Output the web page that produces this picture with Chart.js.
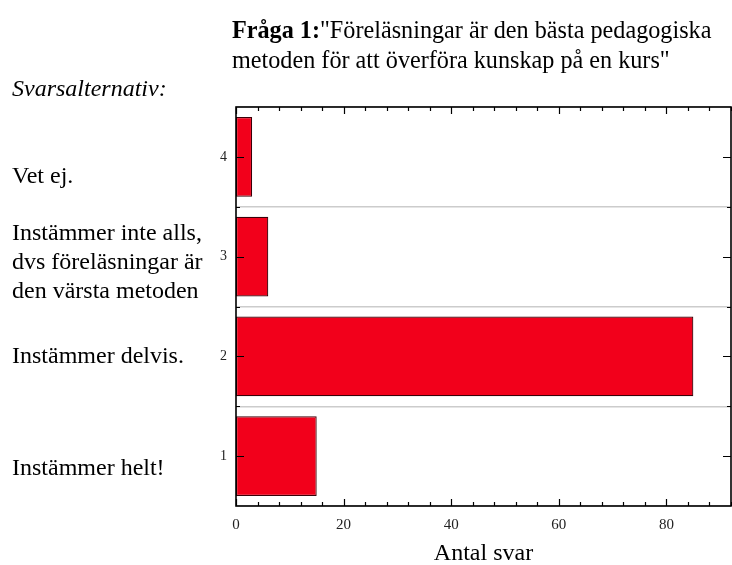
<!DOCTYPE html>
<html>
<head>
<meta charset="utf-8">
<script src="https://cdn.jsdelivr.net/npm/chart.js@4"></script>
<style>
  html, body { margin: 0; padding: 0; background: #fff; }
  #wrap { position: relative; width: 732px; height: 565px; overflow: hidden; }
  #c { position: absolute; left: 0; top: 0; }
  .t { position: absolute; font-family: "Liberation Serif", "Times New Roman", serif; font-size: 24px; color: #000; white-space: nowrap; }
</style>
</head>
<body>
<div id="wrap">
  <canvas id="c" width="732" height="565"></canvas>
  <div class="t" id="title" style="left:232px; top:15px; line-height:30px; font-size:24.2px;"></div>
  <div class="t" id="svar" style="left:12px; top:73px; line-height:30px; font-style:italic;"></div>
  <div id="labels"></div>
</div>
<script>
// ---- data ----
const codes = ['1', '2', '3', '4'];
const answerLabels = [
  ['Instämmer helt!'],
  ['Instämmer delvis.'],
  ['Instämmer inte alls,', 'dvs föreläsningar är', 'den värsta metoden'],
  ['Vet ej.']
];
const counts = [15, 85, 6, 3];
const xTickValues = [0, 20, 40, 60, 80];
const titleBold = 'Fråga 1:';
const titleLines = ['"Föreläsningar är den bästa pedagogiska', 'metoden för att överföra kunskap på en kurs"'];
const listHeading = 'Svarsalternativ:';
const xTitle = 'Antal svar';

// ---- text blocks ----
document.getElementById('title').innerHTML = '<b>' + titleBold + '</b>' + titleLines[0] + '<br>' + titleLines[1];
document.getElementById('svar').textContent = listHeading;
const labelCenters = [467, 355, 261, 175];
const labelsDiv = document.getElementById('labels');
answerLabels.forEach((lines, i) => {
  const d = document.createElement('div');
  d.className = 't';
  d.style.left = '12px';
  d.style.lineHeight = '29px';
  d.style.top = (labelCenters[i] - lines.length * 29 / 2) + 'px';
  d.innerHTML = lines.join('<br>');
  labelsDiv.appendChild(d);
});

// ---- chart ----
const serif = '"Liberation Serif", "Times New Roman", serif';
const frameTicks = {
  id: 'frameTicks',
  afterDatasetsDraw(chart) {
    const ctx = chart.ctx;
    const a = chart.chartArea;
    const xs = chart.scales.x, ys = chart.scales.y;
    ctx.save();
    ctx.strokeStyle = '#000';
    ctx.lineWidth = 1.2;
    for (let v = 0; v <= xs.max; v += 4) {
      const px = Math.round(xs.getPixelForValue(v)) + 0.5;
      const len = (v % 20 === 0) ? 7 : 4;
      ctx.beginPath();
      ctx.moveTo(px, a.bottom); ctx.lineTo(px, a.bottom - len);
      ctx.moveTo(px, a.top); ctx.lineTo(px, a.top + len);
      ctx.stroke();
    }
    for (let i = 0; i < codes.length; i++) {
      const py = Math.round(ys.getPixelForValue(i)) + 0.5;
      ctx.beginPath();
      ctx.moveTo(a.left, py); ctx.lineTo(a.left + 8, py);
      ctx.moveTo(a.right, py); ctx.lineTo(a.right - 8, py);
      ctx.stroke();
      if (i > 0) {
        const pb = Math.round(ys.getPixelForValue(i - 0.5)) + 0.5;
        ctx.beginPath();
        ctx.moveTo(a.left, pb); ctx.lineTo(a.left + 4, pb);
        ctx.moveTo(a.right, pb); ctx.lineTo(a.right - 4, pb);
        ctx.stroke();
      }
    }
    ctx.lineWidth = 1.6;
    ctx.strokeRect(a.left, a.top, a.right - a.left, a.bottom - a.top);
    ctx.restore();
  }
};

new Chart(document.getElementById('c'), {
  type: 'bar',
  data: {
    labels: codes,
    datasets: [{
      data: counts,
      backgroundColor: '#f2001b',
      borderColor: '#3a0008',
      borderWidth: 1.2,
      borderSkipped: false,
      categoryPercentage: 0.8,
      barPercentage: 1.0
    }]
  },
  options: {
    indexAxis: 'y',
    responsive: false,
    animation: false,
    layout: { padding: { left: 196, right: 1, top: 107, bottom: 0 } },
    plugins: { legend: { display: false }, tooltip: { enabled: false } },
    scales: {
      x: {
        type: 'linear',
        min: 0, max: 92,
        afterBuildTicks(scale) { scale.ticks = xTickValues.map(v => ({ value: v })); },
        afterFit(scale) { scale.height = 59; },
        grid: { display: false },
        border: { display: false },
        ticks: { padding: 2, color: '#222', font: { family: serif, size: 15 } },
        title: { display: true, text: xTitle, color: '#000', font: { family: serif, size: 24, lineHeight: 0.9 }, padding: { top: 0, bottom: 0 } }
      },
      y: {
        type: 'category',
        reverse: true,
        afterFit(scale) { scale.width = 40; },
        grid: { display: true, offset: true, drawTicks: false, color: '#cccccc', lineWidth: 1.5 },
        border: { display: false },
        ticks: { padding: 9, color: '#222', font: { family: serif, size: 14 } }
      }
    }
  },
  plugins: [frameTicks]
});
</script>
</body>
</html>
